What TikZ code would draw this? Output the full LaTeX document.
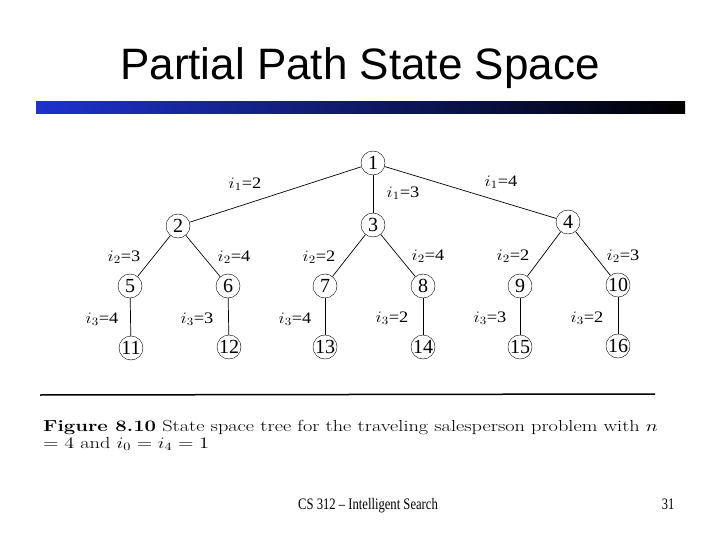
\documentclass[tikz,border=0pt]{standalone}
\usepackage{fix-cm}
\usepackage{fontspec}
\newfontfamily\arialfont{Liberation Sans}
\newfontfamily\timesfont{Liberation Serif}
\definecolor{barblue}{RGB}{30,50,205}
\newcommand{\wide}[2]{\scalebox{#1}[1]{#2}}
\tikzset{
  heading/.style={font=\arialfont\fontsize{44}{44}\selectfont},
  state/.style={draw, circle, inner sep=0pt, minimum size=24pt, font=\timesfont\fontsize{20}{20}\selectfont},
  branch/.style={line width=0.7pt},
  choice/.style={inner sep=0pt, font=\timesfont\fontsize{16}{16}\selectfont},
  caption/.style={anchor=base west, inner sep=0pt, font=\fontsize{16}{16}\selectfont},
  footer/.style={anchor=base, inner sep=0pt, font=\timesfont\fontsize{16}{16}\selectfont},
}
\begin{document}
\begin{tikzpicture}[x=1pt,y=-1pt]
\useasboundingbox (0,0) rectangle (720,540);
\node[heading] (title) at (360,68) {Partial Path State Space};
\shade[left color=barblue, right color=black] (36,102) rectangle (685,114);
% state space tree
\foreach \n/\x/\y in {1/373/163, 2/178/226, 3/373/225, 4/568/222,
    5/130/286, 6/228/286, 7/325/286, 8/423/286, 9/520/286, 10/618/285,
    11/131/348, 12/229/347, 13/325/347, 14/423/347, 15/520/347, 16/618/346}
  {\node[state] (s\n) at (\x,\y) {\n};}
\foreach \a/\b in {1/2,1/3,1/4,2/5,2/6,3/7,3/8,4/9,4/10,5/11,6/12,7/13,8/14,9/15,10/16}
  {\draw[branch] (s\a) -- (s\b);}
\foreach \k/\v/\x/\y [count=\c] in {1/2/245/184, 1/3/403/193, 1/4/501/182,
    2/3/124/257, 2/4/234/257, 2/2/319/257, 2/4/428/256, 2/2/513/256, 2/3/623/256,
    3/4/102/319, 3/3/197/319, 3/4/295/319, 3/2/392/318, 3/3/490/318, 3/2/587/318}
  {\node[choice] (lab\c) at (\x,\y) {\wide{1.15}{$i_{\k}$=\v}};}
% figure caption
\draw[line width=1.5pt] (40,395) coordinate (rulea) -- (655,394) coordinate (ruleb);
\node[caption] (cap1) at (43,431) {\wide{1.27}{\textbf{Figure 8.10} State space tree for the traveling salesperson problem with $n$}};
\node[caption] (cap2) at (43,448) {\wide{1.27}{$=4$ and $i_0=i_4=1$}};
\node[footer] (foot) at (368,509) {\wide{0.79}{CS 312 \textendash{} Intelligent Search}};
\node[footer] (page) at (668,509) {\wide{0.78}{31}};
\end{tikzpicture}
\end{document}
